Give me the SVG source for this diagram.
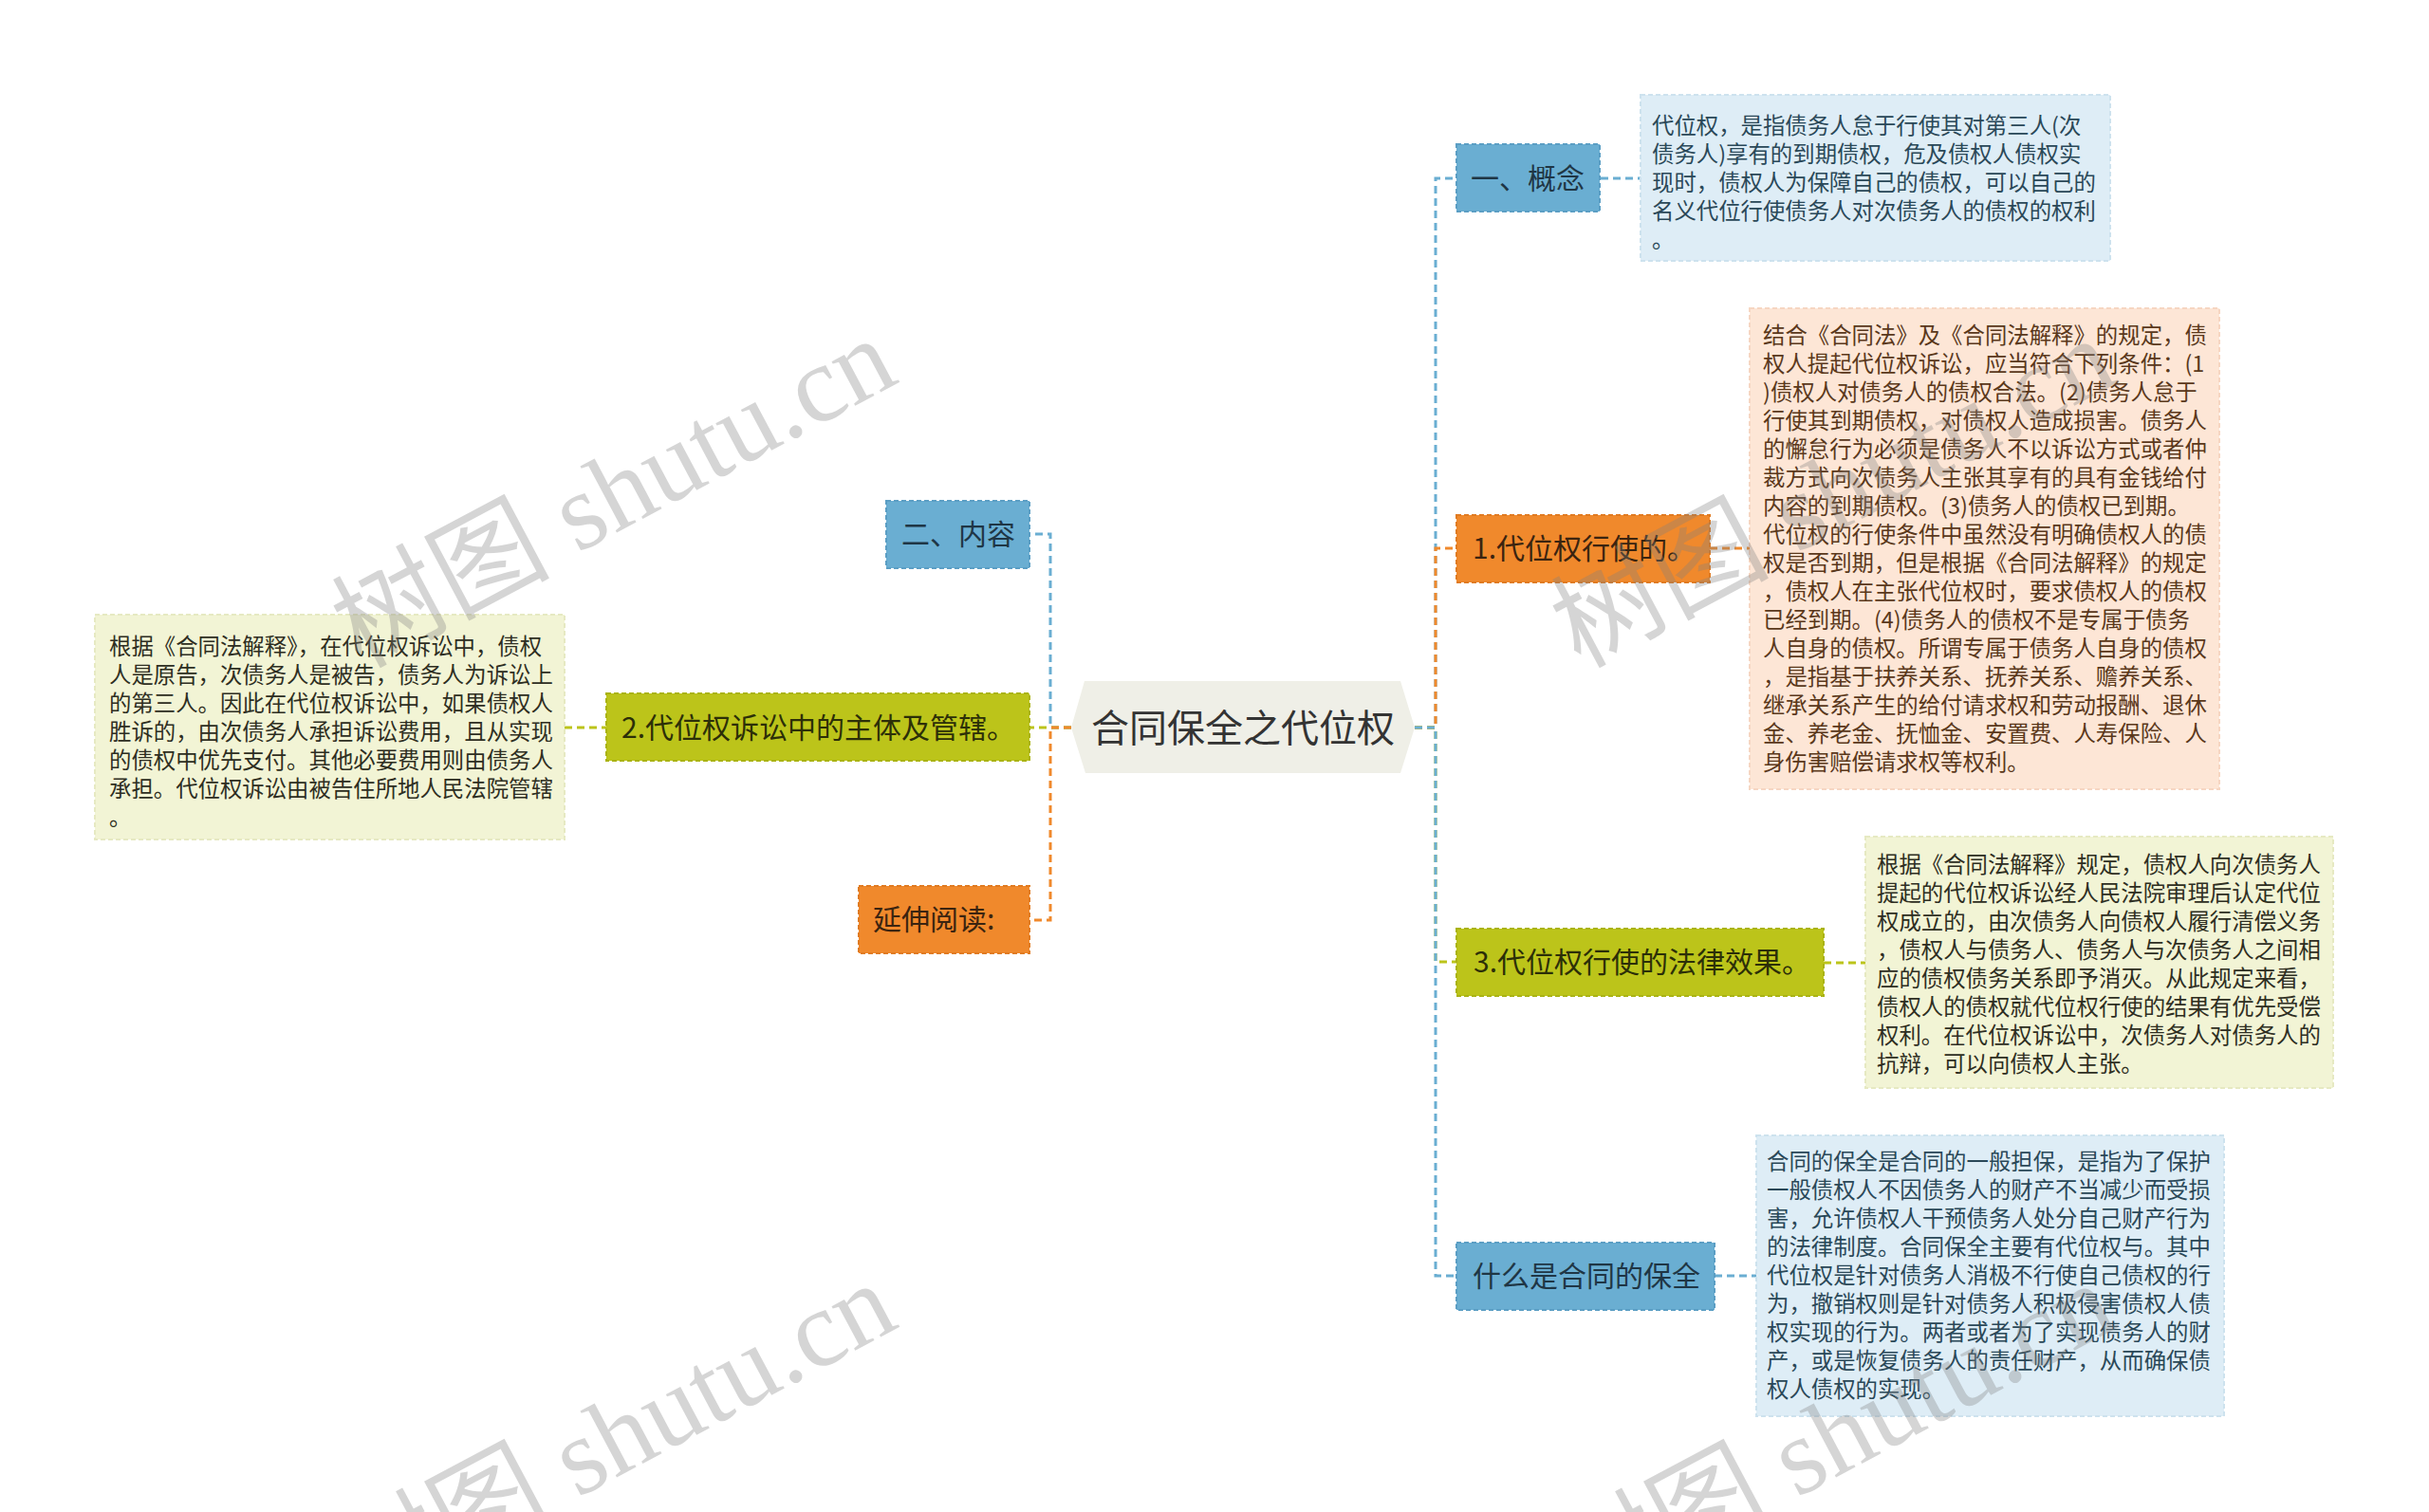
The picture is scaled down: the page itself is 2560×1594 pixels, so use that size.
<svg xmlns="http://www.w3.org/2000/svg" width="2560" height="1594" viewBox="0 0 2560 1594">
<style>
.bg{fill:#ffffff}
.lbl{font-family:"Noto Sans CJK SC","Noto Sans",sans-serif;font-size:30px}
.body{font-family:"Noto Sans CJK SC","Noto Sans",sans-serif;font-size:23.4px}
.nb{fill:#6aaed2;stroke:#5b9ec4;stroke-width:2;stroke-dasharray:5 3}
.no{fill:#f0892c;stroke:#e07b22;stroke-width:2;stroke-dasharray:5 3}
.ng{fill:#bcc41a;stroke:#aab315;stroke-width:2;stroke-dasharray:5 3}
.tb{fill:#1f3645}
.to{fill:#3b2410}
.tg{fill:#2c2f08}
.bb{fill:#deedf6;stroke:#cde2ee;stroke-width:2;stroke-dasharray:5 3}
.bo{fill:#fde6d6;stroke:#f6d6c2;stroke-width:2;stroke-dasharray:5 3}
.bgn{fill:#f2f4d5;stroke:#e6e9c2;stroke-width:2;stroke-dasharray:5 3}
.xb{fill:#2a4858}
.xo{fill:#5a381b}
.xg{fill:#2e2e22}
.c{fill:none;stroke-width:3;stroke-dasharray:8 5}
.cb{stroke:#6aaed2}
.co{stroke:#f0892c}
.cg{stroke:#bcc41a}
.wm{font-family:"Liberation Serif","Noto Sans CJK SC",serif;font-size:115px;fill:#808080;fill-opacity:0.33}
</style>
<rect class="bg" x="0" y="0" width="2560" height="1594"/>

<g id="connectors">
  <path class="c cb" d="M1491,767 H1513 V188 H1535"/>
  <path class="c co" d="M1491,767 H1513 V578 H1535"/>
  <path class="c cg" d="M1491,767 H1513 V1014 H1535"/>
  <path class="c cb" d="M1491,767 H1513 V1345 H1535"/>
  <path class="c cb" d="M1129,767 H1107 V563 H1085"/>
  <path class="c cg" d="M1129,767 H1085"/>
  <path class="c co" d="M1129,767 H1107 V970 H1085"/>
  <path class="c cb" d="M1687,188 H1729"/>
  <path class="c co" d="M1802,578 H1844"/>
  <path class="c cg" d="M1922,1015 H1966"/>
  <path class="c cb" d="M1807,1345 H1851"/>
  <path class="c cg" d="M595,767 H639"/>
</g>

<g id="center">
  <polygon points="1143,718 1476,718 1491,767 1476,815 1144,815 1129,767" fill="#efefe7"/>
  <text x="1310" y="782" text-anchor="middle" font-family="&quot;Noto Sans CJK SC&quot;,&quot;Noto Sans&quot;,sans-serif" font-size="40" fill="#333333">合同保全之代位权</text>
</g>

<g id="node-concept">
  <rect class="nb" x="1535" y="152" width="151" height="71"/>
  <text class="lbl tb" x="1550" y="199">一、概念</text>
</g>
<g id="text-concept">
  <rect class="bb" x="1729" y="100" width="495" height="175"/>
  <text class="body xb" x="1741" y="141">
    <tspan x="1741" y="141">代位权，是指债务人怠于行使其对第三人(次</tspan>
    <tspan x="1741" y="171">债务人)享有的到期债权，危及债权人债权实</tspan>
    <tspan x="1741" y="201">现时，债权人为保障自己的债权，可以自己的</tspan>
    <tspan x="1741" y="231">名义代位行使债务人对次债务人的债权的权利</tspan>
    <tspan x="1741" y="261">。</tspan>
  </text>
</g>

<g id="node-1">
  <rect class="no" x="1535" y="543" width="267" height="71"/>
  <text class="lbl to" x="1552" y="589">1.代位权行使的。</text>
</g>
<g id="text-1">
  <rect class="bo" x="1844" y="325" width="495" height="507"/>
  <text class="body xo" x="1858" y="362">
    <tspan x="1858" y="362">结合《合同法》及《合同法解释》的规定，债</tspan>
    <tspan x="1858" y="392">权人提起代位权诉讼，应当符合下列条件：(1</tspan>
    <tspan x="1858" y="422">)债权人对债务人的债权合法。(2)债务人怠于</tspan>
    <tspan x="1858" y="452">行使其到期债权，对债权人造成损害。债务人</tspan>
    <tspan x="1858" y="482">的懈怠行为必须是债务人不以诉讼方式或者仲</tspan>
    <tspan x="1858" y="512">裁方式向次债务人主张其享有的具有金钱给付</tspan>
    <tspan x="1858" y="542">内容的到期债权。(3)债务人的债权已到期。</tspan>
    <tspan x="1858" y="572">代位权的行使条件中虽然没有明确债权人的债</tspan>
    <tspan x="1858" y="602">权是否到期，但是根据《合同法解释》的规定</tspan>
    <tspan x="1858" y="632">，债权人在主张代位权时，要求债权人的债权</tspan>
    <tspan x="1858" y="662">已经到期。(4)债务人的债权不是专属于债务</tspan>
    <tspan x="1858" y="692">人自身的债权。所谓专属于债务人自身的债权</tspan>
    <tspan x="1858" y="722">，是指基于扶养关系、抚养关系、赡养关系、</tspan>
    <tspan x="1858" y="752">继承关系产生的给付请求权和劳动报酬、退休</tspan>
    <tspan x="1858" y="782">金、养老金、抚恤金、安置费、人寿保险、人</tspan>
    <tspan x="1858" y="812">身伤害赔偿请求权等权利。</tspan>
  </text>
</g>

<g id="node-3">
  <rect class="ng" x="1535" y="979" width="387" height="71"/>
  <text class="lbl tg" x="1553" y="1025">3.代位权行使的法律效果。</text>
</g>
<g id="text-3">
  <rect class="bgn" x="1966" y="882" width="493" height="265"/>
  <text class="body xg" x="1978" y="920">
    <tspan x="1978" y="920">根据《合同法解释》规定，债权人向次债务人</tspan>
    <tspan x="1978" y="950">提起的代位权诉讼经人民法院审理后认定代位</tspan>
    <tspan x="1978" y="980">权成立的，由次债务人向债权人履行清偿义务</tspan>
    <tspan x="1978" y="1010">，债权人与债务人、债务人与次债务人之间相</tspan>
    <tspan x="1978" y="1040">应的债权债务关系即予消灭。从此规定来看，</tspan>
    <tspan x="1978" y="1070">债权人的债权就代位权行使的结果有优先受偿</tspan>
    <tspan x="1978" y="1100">权利。在代位权诉讼中，次债务人对债务人的</tspan>
    <tspan x="1978" y="1130">抗辩，可以向债权人主张。</tspan>
  </text>
</g>

<g id="node-4">
  <rect class="nb" x="1535" y="1310" width="272" height="71"/>
  <text class="lbl tb" x="1552" y="1356">什么是合同的保全</text>
</g>
<g id="text-4">
  <rect class="bb" x="1851" y="1197" width="493" height="296"/>
  <text class="body xb" x="1862" y="1233">
    <tspan x="1862" y="1233">合同的保全是合同的一般担保，是指为了保护</tspan>
    <tspan x="1862" y="1263">一般债权人不因债务人的财产不当减少而受损</tspan>
    <tspan x="1862" y="1293">害，允许债权人干预债务人处分自己财产行为</tspan>
    <tspan x="1862" y="1323">的法律制度。合同保全主要有代位权与。其中</tspan>
    <tspan x="1862" y="1353">代位权是针对债务人消极不行使自己债权的行</tspan>
    <tspan x="1862" y="1383">为，撤销权则是针对债务人积极侵害债权人债</tspan>
    <tspan x="1862" y="1413">权实现的行为。两者或者为了实现债务人的财</tspan>
    <tspan x="1862" y="1443">产，或是恢复债务人的责任财产，从而确保债</tspan>
    <tspan x="1862" y="1473">权人债权的实现。</tspan>
  </text>
</g>

<g id="node-content">
  <rect class="nb" x="934" y="528" width="151" height="71"/>
  <text class="lbl tb" x="950" y="574">二、内容</text>
</g>

<g id="node-2">
  <rect class="ng" x="639" y="731" width="446" height="71"/>
  <text class="lbl tg" x="655" y="778">2.代位权诉讼中的主体及管辖。</text>
</g>
<g id="text-2">
  <rect class="bgn" x="100" y="648" width="495" height="237"/>
  <text class="body xg" x="115" y="690">
    <tspan x="115" y="690">根据《合同法解释》，在代位权诉讼中，债权</tspan>
    <tspan x="115" y="720">人是原告，次债务人是被告，债务人为诉讼上</tspan>
    <tspan x="115" y="750">的第三人。因此在代位权诉讼中，如果债权人</tspan>
    <tspan x="115" y="780">胜诉的，由次债务人承担诉讼费用，且从实现</tspan>
    <tspan x="115" y="810">的债权中优先支付。其他必要费用则由债务人</tspan>
    <tspan x="115" y="840">承担。代位权诉讼由被告住所地人民法院管辖</tspan>
    <tspan x="115" y="870">。</tspan>
  </text>
</g>

<g id="node-read">
  <rect class="no" x="905" y="934" width="180" height="71"/>
  <text class="lbl to" x="920" y="980">延伸阅读:</text>
</g>

<g id="watermarks">
  <text class="wm" x="380" y="705" transform="rotate(-28 380 705)">树图 shutu.cn</text>
  <text class="wm" x="380" y="1701" transform="rotate(-28 380 1701)">树图 shutu.cn</text>
  <text class="wm" x="1665" y="705" transform="rotate(-28 1665 705)">树图 shutu.cn</text>
  <text class="wm" x="1665" y="1701" transform="rotate(-28 1665 1701)">树图 shutu.cn</text>
</g>
</svg>
